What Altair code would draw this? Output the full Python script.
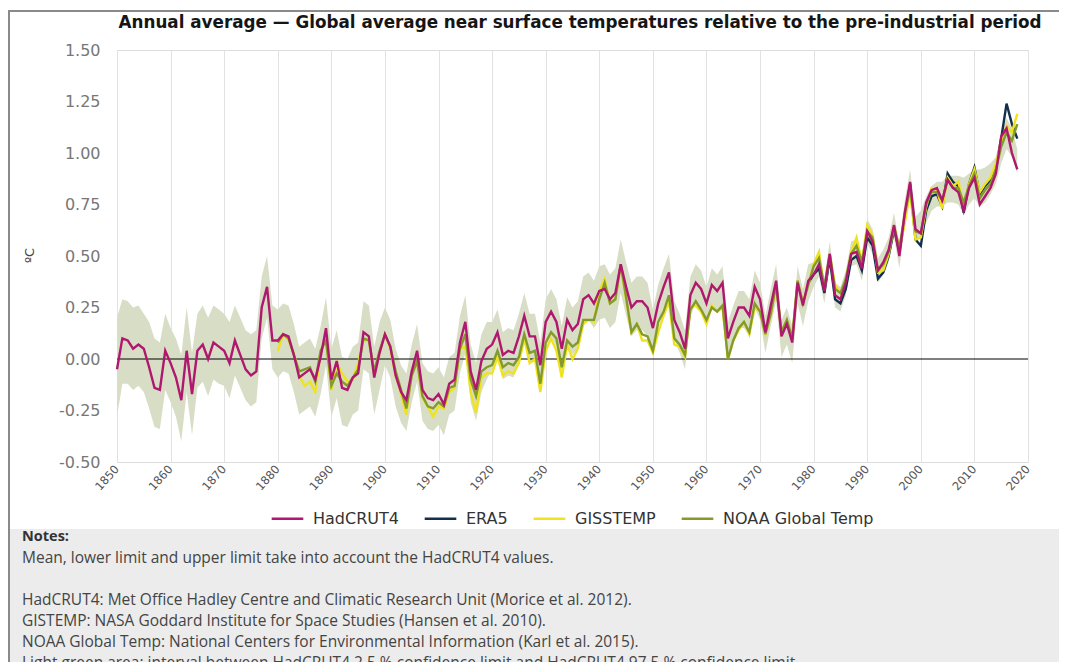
import altair as alt
import pandas as pd

# ---------------- data ----------------
years_had = list(range(1850, 2019))
hadcrut4 = [
    -0.05, 0.10, 0.09, 0.05, 0.07, 0.05, -0.04, -0.14, -0.15, 0.04,
    -0.02, -0.09, -0.20, 0.04, -0.17, 0.04, 0.07, 0.00, 0.08, 0.06,
    0.04, -0.02, 0.09, 0.02, -0.05, -0.08, -0.06, 0.25, 0.35, 0.09,
    0.09, 0.12, 0.11, 0.02, -0.09, -0.07, -0.05, -0.10, 0.01, 0.15,
    -0.10, -0.01, -0.14, -0.15, -0.09, -0.07, 0.13, 0.11, -0.09, 0.03,
    0.12, 0.06, -0.08, -0.16, -0.20, -0.06, 0.04, -0.15, -0.19, -0.20,
    -0.17, -0.22, -0.12, -0.10, 0.08, 0.18, -0.06, -0.15, -0.01, 0.05,
    0.07, 0.13, 0.02, 0.04, 0.03, 0.11, 0.21, 0.11, 0.11, -0.03,
    0.18, 0.23, 0.18, 0.05, 0.19, 0.14, 0.17, 0.29, 0.31, 0.27,
    0.33, 0.34, 0.29, 0.32, 0.46, 0.35, 0.25, 0.28, 0.28, 0.25,
    0.15, 0.27, 0.35, 0.42, 0.19, 0.13, 0.05, 0.31, 0.37, 0.34,
    0.27, 0.36, 0.33, 0.37, 0.10, 0.18, 0.25, 0.25, 0.21, 0.35,
    0.29, 0.13, 0.26, 0.38, 0.11, 0.17, 0.08, 0.37, 0.26, 0.38,
    0.41, 0.46, 0.33, 0.51, 0.31, 0.29, 0.37, 0.51, 0.52, 0.44,
    0.62, 0.57, 0.43, 0.47, 0.53, 0.65, 0.50, 0.71, 0.86, 0.63,
    0.61, 0.76, 0.82, 0.83, 0.77, 0.87, 0.83, 0.81, 0.72, 0.83,
    0.88, 0.75, 0.79, 0.83, 0.90, 1.08, 1.12, 1.00, 0.92,
]
band_lower = [
    -0.28, -0.12, -0.12, -0.15, -0.13, -0.16, -0.24, -0.33, -0.34, -0.15,
    -0.21, -0.28, -0.40, -0.16, -0.37, -0.14, -0.11, -0.18, -0.10, -0.12,
    -0.13, -0.19, -0.08, -0.14, -0.20, -0.23, -0.21, 0.10, 0.20, -0.05,
    -0.09, -0.06, -0.07, -0.16, -0.27, -0.25, -0.23, -0.28, -0.17, -0.03,
    -0.28, -0.19, -0.32, -0.33, -0.27, -0.25, -0.05, -0.07, -0.27, -0.15,
    -0.03, -0.09, -0.23, -0.31, -0.35, -0.21, -0.11, -0.30, -0.34, -0.35,
    -0.32, -0.37, -0.27, -0.25, -0.07, 0.03, -0.21, -0.30, -0.16, -0.10,
    -0.05, 0.01, -0.10, -0.08, -0.09, -0.01, 0.09, -0.01, -0.01, -0.15,
    0.06, 0.11, 0.06, -0.07, 0.07, 0.02, 0.05, 0.17, 0.19, 0.15,
    0.19, 0.20, 0.15, 0.18, 0.32, 0.21, 0.11, 0.14, 0.14, 0.11,
    0.05, 0.17, 0.25, 0.32, 0.09, 0.03, -0.05, 0.21, 0.27, 0.24,
    0.17, 0.26, 0.23, 0.27, 0.00, 0.08, 0.15, 0.15, 0.11, 0.25,
    0.19, 0.03, 0.16, 0.28, 0.01, 0.07, -0.02, 0.27, 0.16, 0.28,
    0.35, 0.40, 0.27, 0.45, 0.25, 0.23, 0.31, 0.45, 0.46, 0.38,
    0.56, 0.51, 0.37, 0.41, 0.47, 0.59, 0.44, 0.65, 0.80, 0.57,
    0.60, 0.66, 0.72, 0.74, 0.74, 0.76, 0.76, 0.75, 0.70, 0.75,
    0.78, 0.74, 0.76, 0.80, 0.85, 0.95, 1.02, 0.98, 0.90,
]
band_upper = [
    0.20, 0.29, 0.28, 0.25, 0.26, 0.22, 0.18, 0.10, 0.08, 0.22,
    0.15, 0.10, 0.02, 0.25, 0.03, 0.22, 0.26, 0.20, 0.26, 0.24,
    0.22, 0.18, 0.26, 0.20, 0.14, 0.12, 0.14, 0.40, 0.50, 0.26,
    0.24, 0.27, 0.26, 0.17, 0.06, 0.08, 0.10, 0.05, 0.16, 0.30,
    0.05, 0.14, 0.01, 0.00, 0.06, 0.08, 0.28, 0.26, 0.06, 0.18,
    0.25, 0.19, 0.05, -0.03, -0.07, 0.07, 0.17, -0.02, -0.06, -0.07,
    -0.04, -0.09, 0.01, 0.03, 0.21, 0.31, 0.07, -0.02, 0.12, 0.18,
    0.18, 0.24, 0.13, 0.15, 0.14, 0.22, 0.32, 0.22, 0.22, 0.08,
    0.29, 0.34, 0.29, 0.16, 0.30, 0.25, 0.28, 0.40, 0.42, 0.38,
    0.45, 0.46, 0.41, 0.44, 0.58, 0.47, 0.37, 0.40, 0.40, 0.37,
    0.24, 0.36, 0.44, 0.51, 0.28, 0.22, 0.14, 0.40, 0.46, 0.43,
    0.35, 0.44, 0.41, 0.45, 0.18, 0.26, 0.33, 0.33, 0.29, 0.43,
    0.37, 0.21, 0.34, 0.46, 0.19, 0.25, 0.16, 0.45, 0.34, 0.46,
    0.47, 0.52, 0.39, 0.57, 0.37, 0.35, 0.43, 0.57, 0.58, 0.50,
    0.68, 0.63, 0.49, 0.53, 0.59, 0.71, 0.56, 0.77, 0.92, 0.69,
    0.72, 0.79, 0.84, 0.86, 0.86, 0.89, 0.89, 0.89, 0.88, 0.90,
    0.92, 0.92, 0.93, 0.95, 0.98, 1.10, 1.17, 1.12, 1.02,
]
years_giss = list(range(1880, 2019))
gisstemp = [
    0.04, 0.12, 0.09, 0.03, -0.08, -0.13, -0.11, -0.16, 0.03, 0.10,
    -0.15, -0.02, -0.07, -0.11, -0.10, -0.02, 0.09, 0.09, -0.07, 0.03,
    0.12, 0.05, -0.08, -0.17, -0.27, -0.06, -0.02, -0.19, -0.23, -0.28,
    -0.23, -0.24, -0.16, -0.14, 0.05, 0.06, -0.16, -0.26, -0.09, -0.07,
    -0.07, 0.01, -0.08, -0.06, -0.07, -0.02, 0.10, -0.02, 0.00, -0.16,
    0.04, 0.10, 0.04, -0.09, 0.07, 0.00, 0.05, 0.17, 0.19, 0.18,
    0.33, 0.39, 0.27, 0.29, 0.45, 0.29, 0.13, 0.17, 0.09, 0.09,
    0.03, 0.13, 0.21, 0.28, 0.07, 0.06, 0.01, 0.25, 0.26, 0.23,
    0.17, 0.26, 0.23, 0.25, 0.00, 0.09, 0.14, 0.18, 0.12, 0.25,
    0.23, 0.12, 0.21, 0.36, 0.13, 0.19, 0.10, 0.38, 0.27, 0.36,
    0.46, 0.52, 0.34, 0.51, 0.36, 0.32, 0.38, 0.52, 0.59, 0.47,
    0.65, 0.60, 0.42, 0.43, 0.51, 0.65, 0.53, 0.66, 0.81, 0.58,
    0.59, 0.74, 0.83, 0.82, 0.73, 0.88, 0.84, 0.86, 0.74, 0.85,
    0.92, 0.81, 0.85, 0.88, 0.95, 1.05, 1.13, 1.10, 1.19,
]
years_noaa = list(range(1880, 2019))
noaa = [
    0.08, 0.12, 0.10, 0.02, -0.06, -0.05, -0.04, -0.11, 0.04, 0.09,
    -0.13, -0.07, -0.11, -0.13, -0.09, -0.05, 0.10, 0.09, -0.06, 0.04,
    0.12, 0.06, -0.06, -0.15, -0.24, -0.08, -0.01, -0.18, -0.23, -0.24,
    -0.21, -0.23, -0.14, -0.13, 0.05, 0.12, -0.10, -0.18, -0.06, -0.04,
    -0.03, 0.04, -0.04, -0.02, -0.03, 0.01, 0.12, 0.03, 0.04, -0.12,
    0.08, 0.13, 0.10, -0.04, 0.09, 0.06, 0.08, 0.19, 0.19, 0.19,
    0.29, 0.37, 0.27, 0.29, 0.46, 0.30, 0.13, 0.17, 0.12, 0.11,
    0.04, 0.18, 0.23, 0.31, 0.10, 0.07, 0.02, 0.24, 0.28, 0.24,
    0.19, 0.25, 0.23, 0.26, 0.00, 0.09, 0.15, 0.18, 0.13, 0.27,
    0.23, 0.12, 0.22, 0.36, 0.13, 0.19, 0.10, 0.38, 0.27, 0.36,
    0.45, 0.49, 0.35, 0.51, 0.34, 0.32, 0.39, 0.51, 0.55, 0.47,
    0.62, 0.59, 0.43, 0.46, 0.52, 0.64, 0.54, 0.70, 0.83, 0.62,
    0.61, 0.75, 0.81, 0.81, 0.77, 0.87, 0.83, 0.83, 0.76, 0.84,
    0.90, 0.78, 0.82, 0.85, 0.92, 1.03, 1.10, 1.06, 1.14,
]
years_era5 = list(range(1979, 2019))
era5 = [
    0.37, 0.41, 0.44, 0.32, 0.49, 0.29, 0.27, 0.34, 0.48, 0.50,
    0.43, 0.59, 0.55, 0.39, 0.42, 0.50, 0.63, 0.52, 0.68, 0.85,
    0.58, 0.55, 0.72, 0.79, 0.80, 0.74, 0.90, 0.86, 0.84, 0.71,
    0.85, 0.93, 0.80, 0.84, 0.87, 0.92, 1.07, 1.24, 1.14, 1.07,
]

series_names = ["HadCRUT4", "ERA5", "GISSTEMP", "NOAA Global Temp"]
series_colors = ["#b0186f", "#12304d", "#efe21e", "#849b2c"]
x_ticks = list(range(1850, 2021, 10))
y_ticks = [-0.5, -0.25, 0.0, 0.25, 0.5, 0.75, 1.0, 1.25, 1.5]

title_text = "Annual average \u2014 Global average near surface temperatures relative to the pre-industrial period"
notes_title = "Notes:"
notes_lines = [
    "Mean, lower limit and upper limit take into account the HadCRUT4 values.",
    "HadCRUT4: Met Office Hadley Centre and Climatic Research Unit (Morice et al. 2012).",
    "GISTEMP: NASA Goddard Institute for Space Studies (Hansen et al. 2010).",
    "NOAA Global Temp: National Centers for Environmental Information (Karl et al. 2015).",
    "Light green area: interval between HadCRUT4 2.5 % confidence limit and HadCRUT4 97.5 % confidence limit.",
]

# ---------------- tables ----------------
frames = []
for name, yrs, vals in [
    ("HadCRUT4", years_had, hadcrut4),
    ("ERA5", years_era5, era5),
    ("GISSTEMP", years_giss, gisstemp),
    ("NOAA Global Temp", years_noaa, noaa),
]:
    frames.append(pd.DataFrame({"year": yrs, "value": vals, "series": name}))
lines_df = pd.concat(frames, ignore_index=True)
band_df = pd.DataFrame({"year": years_had, "lower": band_lower, "upper": band_upper})

W, H = 911, 412
FONT = "DejaVu Sans"

x_enc = alt.X(
    "year:Q",
    scale=alt.Scale(domain=[1850, 2020], nice=False, zero=False),
    axis=alt.Axis(
        values=x_ticks, format="d", labelAngle=312, labelAlign="right",
        labelBaseline="middle", labelFontSize=11.5, labelColor="#555",
        labelPadding=5, ticks=False, domain=False, grid=True,
        gridColor="#e2e2e2", gridWidth=1, title=None, labelFont=FONT,
    ),
)
y_scale = alt.Scale(domain=[-0.5, 1.5], nice=False, zero=False)
y_axis = alt.Axis(
    values=y_ticks,
    labelExpr="replace(format(datum.value, '.2f'), '\u2212', '-')",
    labelFontSize=16, labelColor="#777",
    labelPadding=17, ticks=False, domain=False, grid=False,
    title="\u00baC", titleFontSize=13, titleFontWeight="normal",
    titleColor="#444", titleX=-88, titleY=205, titleAngle=270,
    titleAlign="center", titleBaseline="middle", labelFont=FONT, titleFont=FONT,
)

base_one = pd.DataFrame({"k": [0]})

notes_bg = alt.Chart(base_one).mark_rect(color="#ececec").encode(
    x=alt.value(-108), x2=alt.value(960), y=alt.value(479), y2=alt.value(640)
)
frame = alt.Chart(base_one).mark_rect(
    fill=None, stroke="#8a8a8a", strokeWidth=2
).encode(x=alt.value(-108), x2=alt.value(990), y=alt.value(-39), y2=alt.value(700))

band = alt.Chart(band_df).mark_area(color="#d8dec5", opacity=1).encode(
    x=x_enc, y=alt.Y("lower:Q", scale=y_scale, axis=y_axis), y2="upper:Q"
)
zero = alt.Chart(pd.DataFrame({"z": [0.0]})).mark_rule(color="#000", strokeWidth=1).encode(
    y=alt.Y("z:Q", scale=y_scale, axis=y_axis)
)

color_enc = alt.Color(
    "series:N",
    scale=alt.Scale(domain=series_names, range=series_colors),
    legend=alt.Legend(
        orient="none", legendX=153, legendY=451, direction="horizontal",
        columns=4, title=None, symbolType="stroke", symbolSize=1000,
        symbolStrokeWidth=2.5, labelFontSize=16, labelColor="#333",
        labelOffset=8, columnPadding=20, labelFont=FONT, symbolOpacity=1,
    ),
)

line_layers = []
for name in ["ERA5", "GISSTEMP", "NOAA Global Temp", "HadCRUT4"]:
    line_layers.append(
        alt.Chart(lines_df)
        .transform_filter(alt.datum.series == name)
        .mark_line(strokeWidth=2.4)
        .encode(x=x_enc, y=alt.Y("value:Q", scale=y_scale, axis=y_axis), color=color_enc)
    )


def text_layer(txt, xpx, ypx, size, weight="normal", font=FONT, color="#333", align="left"):
    return alt.Chart(pd.DataFrame({"t": [txt]})).mark_text(
        fontSize=size, fontWeight=weight, font=font, color=color,
        align=align, baseline="middle",
    ).encode(x=alt.value(xpx), y=alt.value(ypx), text="t:N")


title = text_layer(title_text, 463, -27, 16.8, weight="bold", color="#151515", align="center")
notes = [text_layer(notes_title, -95, 487, 14.5, weight="bold", font="Open Sans", color="#333")]
notes_y = [508, 550, 571, 592, 613]
for line, yy in zip(notes_lines, notes_y):
    notes.append(text_layer(line, -95, yy, 15.5, font="Open Sans", color="#444"))

chart = alt.layer(
    notes_bg, band, zero, *line_layers, title, *notes, frame
).resolve_scale(y="shared").properties(
    width=W, height=H,
    autosize=alt.AutoSizeParams(type="none"),
    padding={"left": 109, "top": 42, "right": 31, "bottom": 200},
).configure_view(stroke=None).configure(font=FONT)

chart.save("out.html", embed_options={"renderer": "svg", "actions": False})
